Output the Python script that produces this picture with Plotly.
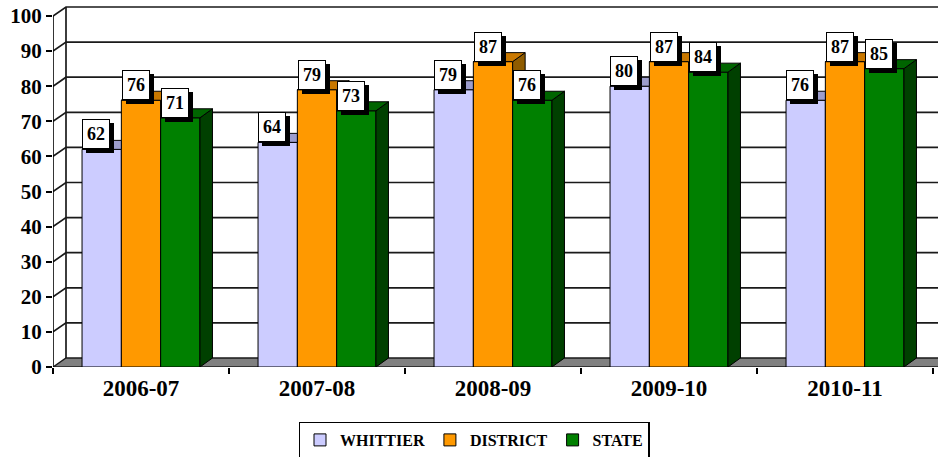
import plotly.graph_objects as go

# ---------------- data ----------------
categories = ["2006-07", "2007-08", "2008-09", "2009-10", "2010-11"]
series_names = ["WHITTIER", "DISTRICT", "STATE"]
whittier = [62, 64, 79, 80, 76]
district = [76, 79, 87, 87, 87]
state = [71, 73, 76, 84, 85]
y_ticks = [0, 10, 20, 30, 40, 50, 60, 70, 80, 90, 100]

series_values = [whittier, district, state]

# ---------------- styling / geometry ----------------
W, H = 938, 457
ml, mr, mt, mb = 53, 0, 5, 90
plot_w = W - ml - mr
plot_h = H - mt - mb
PX_X = 176.0   # pixels per category
PX_Y = 3.51    # pixels per value unit
x_range = [-0.5, -0.5 + plot_w / PX_X]
y_range = [0, plot_h / PX_Y]

# 3D depth offsets (converted from pixels to data units)
dxF, dyF = 13 / PX_X, 9 / PX_Y      # floor / walls
dxB, dyB = 12.5 / PX_X, 9 / PX_Y    # bars

front_col = ["#CCCCFF", "#FF9900", "#008000"]
top_col = ["#9D9DCC", "#C97800", "#006400"]
side_col = ["#7A7AA8", "#8F5C00", "#004000"]

FONT = "Liberation Serif"
bargap = 0.33
bw = (1 - bargap) / 3
offsets = [-bw, 0.0, bw]

fig = go.Figure()

# front faces: real bars
for s, name in enumerate(series_names):
    fig.add_trace(go.Bar(
        x=list(range(len(categories))), y=series_values[s], name=name,
        marker=dict(color=front_col[s], line=dict(color="black", width=1)),
        hoverinfo="skip",
    ))


def poly(xs, ys, color):
    fig.add_trace(go.Scatter(
        x=xs + [xs[0]], y=ys + [ys[0]], mode="lines", fill="toself",
        fillcolor=color, line=dict(color="black", width=1),
        showlegend=False, hoverinfo="skip",
    ))


# side faces, then top faces (right to left) per category
for i in range(len(categories)):
    for s in range(3):
        v = series_values[s][i]
        xL = i + offsets[s] - bw / 2
        xR = xL + bw
        v2 = series_values[s + 1][i] if s < 2 else None
        if v2 is None:
            poly([xR, xR, xR + dxB, xR + dxB], [0, v, v + dyB, dyB], side_col[s])
        elif v2 < v:
            poly([xR, xR, xR + dxB, xR + dxB], [v2, v, v + dyB, v2 + dyB], side_col[s])
    for s in (2, 1, 0):
        v = series_values[s][i]
        xL = i + offsets[s] - bw / 2
        xR = xL + bw
        v2 = series_values[s + 1][i] if s < 2 else None
        if v2 is not None and v2 > v:
            poly([xL, xR, xR, xL + dxB], [v, v, v + dyB, v + dyB], top_col[s])
        else:
            poly([xL, xR, xR + dxB, xL + dxB], [v, v, v + dyB, v + dyB], top_col[s])

# walls, gridlines, floor
shapes = []
xb = -0.5 + dxF
xmax = x_range[1] + 0.2
for t in y_ticks[1:]:
    shapes.append(dict(type="path", layer="below",
                       path=f"M {-0.5},{t} L {xb},{t + dyF} L {xmax},{t + dyF}",
                       line=dict(color="#1a1a1a", width=1.7)))
shapes.append(dict(type="line", layer="below", x0=xb, x1=xb, y0=dyF, y1=100 + dyF,
                   line=dict(color="#1a1a1a", width=1.7)))
shapes.append(dict(type="path", layer="below",
                   path=f"M -0.5,0 L {xmax},0 L {xmax + dxF},{dyF} L {xb},{dyF} Z",
                   fillcolor="#808080", line=dict(color="#1a1a1a", width=1.4)))
# front value axis line
shapes.append(dict(type="line", layer="above", x0=-0.5, x1=-0.5, y0=0, y1=100,
                   line=dict(color="black", width=1.6)))
fig.update_layout(shapes=shapes)

# data labels with drop shadows
ann = []
for i in range(len(categories)):
    for s in range(3):
        v = series_values[s][i]
        xc = i + offsets[s]
        common = dict(x=xc, y=v, xref="x", yref="y", showarrow=False,
                      yanchor="bottom", xanchor="center", width=20, height=22,
                      borderpad=3, borderwidth=1,
                      font=dict(family=FONT, size=18, color="black", weight="bold"))
        ann.append(dict(text=str(v), bgcolor="black", bordercolor="black",
                        xshift=-5.5 + 4, yshift=-4, **common))
        ann.append(dict(text=str(v), bgcolor="white", bordercolor="black",
                        xshift=-5.5, yshift=0, **common))
fig.update_layout(annotations=ann)

fig.update_layout(
    width=W, height=H,
    margin=dict(l=ml, r=mr, t=mt, b=mb, pad=0, autoexpand=False),
    paper_bgcolor="white", plot_bgcolor="white",
    barmode="group", bargap=bargap, bargroupgap=0,
    font=dict(family=FONT, color="black"),
    xaxis=dict(
        range=x_range, tickmode="array", tickvals=list(range(len(categories))),
        ticktext=categories, ticks="", showgrid=False, zeroline=False, showline=False,
        automargin=False, ticklabelstandoff=5,
        tickfont=dict(family=FONT, size=23, color="black", weight="bold"),
        minor=dict(tickmode="array", tickvals=[k - 0.5 for k in range(len(categories) + 1)],
                   ticks="outside", ticklen=6, tickwidth=1.5, tickcolor="black"),
        fixedrange=True,
    ),
    yaxis=dict(
        range=y_range, tickmode="array", tickvals=y_ticks, ticks="outside",
        ticklen=6, tickwidth=1.5, tickcolor="black", showgrid=False,
        zeroline=False, showline=False, automargin=False,
        tickfont=dict(family=FONT, size=21, color="black", weight="bold"),
        fixedrange=True,
    ),
    legend=dict(
        orientation="h", x=(474 - ml) / plot_w, xanchor="center",
        y=(367 - 440) / plot_h, yanchor="middle",
        bordercolor="black", borderwidth=1.5, bgcolor="white",
        font=dict(family=FONT, size=16, color="black", weight="bold"),
        itemwidth=30, tracegroupgap=0,
    ),
    showlegend=True,
)

fig.write_html("out.html", config={"displayModeBar": False},
               post_script="document.body.style.margin='0';")
